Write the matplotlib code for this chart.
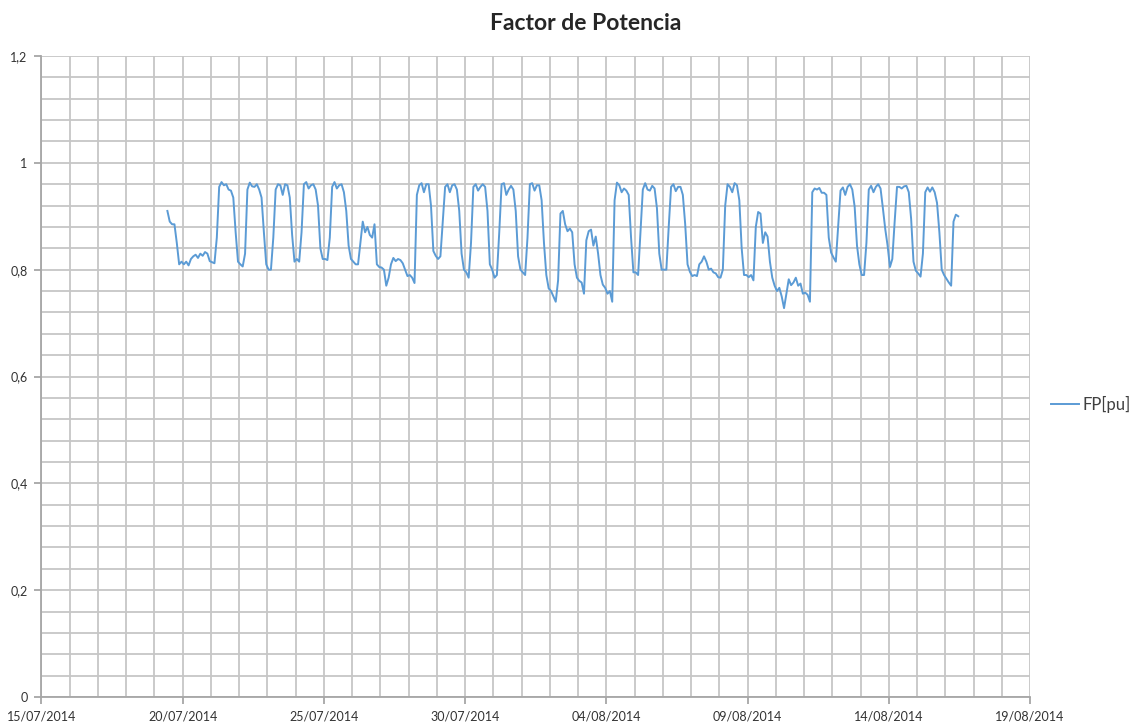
import matplotlib
matplotlib.use("Agg")
import matplotlib.pyplot as plt
import matplotlib.dates as mdates
import matplotlib.ticker as ticker
import pandas as pd

plt.rcParams["font.family"] = ["Lato", "DejaVu Sans"]

# power factor readings, one every 2 hours from 19/07/2014 11:00
first_reading = "2014-07-19 11:00"
fp_pu = [
    0.91, 0.89, 0.885, 0.885, 0.85, 0.81, 0.815,                                   # 19/07 (11h-23h)
    0.81, 0.815, 0.808, 0.82, 0.825, 0.828, 0.822, 0.83, 0.826, 0.833, 0.83, 0.816,  # 20/07
    0.814, 0.812, 0.86, 0.955, 0.964, 0.958, 0.96, 0.95, 0.948, 0.935, 0.87, 0.815,  # 21/07
    0.81, 0.806, 0.83, 0.95, 0.963, 0.956, 0.955, 0.96, 0.95, 0.935, 0.87, 0.81,     # 22/07
    0.80, 0.80, 0.86, 0.95, 0.96, 0.958, 0.94, 0.96, 0.958, 0.935, 0.865, 0.815,     # 23/07
    0.82, 0.815, 0.87, 0.96, 0.964, 0.952, 0.958, 0.96, 0.95, 0.92, 0.84, 0.82,      # 24/07
    0.82, 0.818, 0.86, 0.955, 0.964, 0.952, 0.958, 0.96, 0.945, 0.91, 0.845, 0.82,   # 25/07
    0.815, 0.81, 0.81, 0.85, 0.89, 0.87, 0.88, 0.865, 0.86, 0.885, 0.81, 0.805,      # 26/07
    0.804, 0.80, 0.77, 0.785, 0.81, 0.822, 0.816, 0.82, 0.818, 0.812, 0.80, 0.788,   # 27/07
    0.79, 0.785, 0.775, 0.94, 0.958, 0.962, 0.945, 0.96, 0.96, 0.92, 0.835, 0.826,   # 28/07
    0.82, 0.825, 0.89, 0.955, 0.96, 0.945, 0.958, 0.96, 0.95, 0.91, 0.83, 0.80,      # 29/07
    0.795, 0.785, 0.85, 0.955, 0.96, 0.948, 0.955, 0.96, 0.955, 0.91, 0.81, 0.80,    # 30/07
    0.785, 0.79, 0.87, 0.96, 0.962, 0.94, 0.95, 0.957, 0.95, 0.91, 0.825, 0.80,      # 31/07
    0.795, 0.79, 0.86, 0.96, 0.962, 0.948, 0.958, 0.958, 0.93, 0.85, 0.79, 0.765,    # 01/08
    0.76, 0.75, 0.74, 0.78, 0.905, 0.91, 0.885, 0.872, 0.877, 0.87, 0.81, 0.785,     # 02/08
    0.779, 0.776, 0.755, 0.855, 0.872, 0.875, 0.845, 0.862, 0.83, 0.79, 0.772, 0.766,  # 03/08
    0.755, 0.76, 0.74, 0.93, 0.963, 0.958, 0.945, 0.952, 0.948, 0.94, 0.86, 0.795,   # 04/08
    0.795, 0.79, 0.87, 0.95, 0.962, 0.95, 0.948, 0.957, 0.952, 0.915, 0.83, 0.80,    # 05/08
    0.80, 0.80, 0.88, 0.955, 0.96, 0.947, 0.955, 0.955, 0.94, 0.885, 0.81, 0.796,    # 06/08
    0.788, 0.79, 0.788, 0.81, 0.815, 0.825, 0.815, 0.80, 0.802, 0.795, 0.793, 0.786,  # 07/08
    0.785, 0.80, 0.92, 0.96, 0.955, 0.945, 0.962, 0.958, 0.93, 0.84, 0.79, 0.79,     # 08/08
    0.786, 0.79, 0.78, 0.88, 0.908, 0.905, 0.85, 0.87, 0.862, 0.815, 0.785, 0.77,    # 09/08
    0.76, 0.766, 0.75, 0.728, 0.755, 0.782, 0.771, 0.776, 0.785, 0.77, 0.774, 0.755,  # 10/08
    0.757, 0.753, 0.74, 0.945, 0.952, 0.95, 0.953, 0.944, 0.944, 0.94, 0.86, 0.832,  # 11/08
    0.823, 0.815, 0.88, 0.948, 0.954, 0.94, 0.955, 0.96, 0.95, 0.918, 0.845, 0.81,   # 12/08
    0.79, 0.79, 0.85, 0.95, 0.957, 0.945, 0.955, 0.96, 0.952, 0.915, 0.876, 0.845,   # 13/08
    0.805, 0.82, 0.89, 0.955, 0.955, 0.952, 0.956, 0.957, 0.945, 0.895, 0.815, 0.798,  # 14/08
    0.793, 0.787, 0.83, 0.945, 0.954, 0.946, 0.954, 0.945, 0.925, 0.87, 0.80, 0.79,  # 15/08
    0.783, 0.776, 0.77, 0.89, 0.903, 0.90,                                          # 16/08 (1h-11h)
]

x_start = "2014-07-15"
x_end = "2014-08-19"

times = pd.date_range(first_reading, periods=len(fp_pu), freq="2h")

fig = plt.figure(figsize=(11.30, 7.23), dpi=100)
ax = fig.add_axes([0.0367, 0.036, 0.8748, 0.8865])

ax.plot(times, fp_pu, color="#5B9BD5", lw=1.4, label="FP[pu]")

ax.set_xlim(pd.Timestamp(x_start), pd.Timestamp(x_end))
ax.set_ylim(0, 1.2)

# labels every 5 days, grid every day
major_days = mdates.date2num(pd.date_range(x_start, x_end, freq="5D"))
minor_days = mdates.date2num(pd.date_range(x_start, x_end, freq="D"))
ax.xaxis.set_major_locator(ticker.FixedLocator(major_days))
ax.xaxis.set_minor_locator(ticker.FixedLocator(minor_days))
ax.xaxis.set_major_formatter(mdates.DateFormatter("%d/%m/%Y"))

ax.yaxis.set_major_locator(ticker.MultipleLocator(0.2))
ax.yaxis.set_minor_locator(ticker.MultipleLocator(0.04))
ax.yaxis.set_major_formatter(ticker.FuncFormatter(lambda v, p: f"{v:g}".replace(".", ",")))

ax.grid(which="both", color="#C6C6C6", lw=1.3)
ax.set_axisbelow(True)

for side in ("top", "right"):
    ax.spines[side].set_visible(False)
for side in ("left", "bottom"):
    ax.spines[side].set_color("#A6A6A6")
    ax.spines[side].set_linewidth(1.3)

ax.tick_params(which="major", length=5, width=1.3, color="#A6A6A6",
               labelsize=9, labelcolor="#333333", pad=5)
ax.tick_params(which="minor", length=0)

fig.suptitle("Factor de Potencia", x=0.518, y=0.982, fontsize=16.5,
             fontweight="bold", color="#262626")

ax.legend(loc="center left", bbox_to_anchor=(1.0142, 0.456), frameon=False,
          borderaxespad=0, fontsize=12, handlelength=1.7, handletextpad=0.2,
          labelcolor="#404040")

fig.savefig("out.png", dpi=100)
